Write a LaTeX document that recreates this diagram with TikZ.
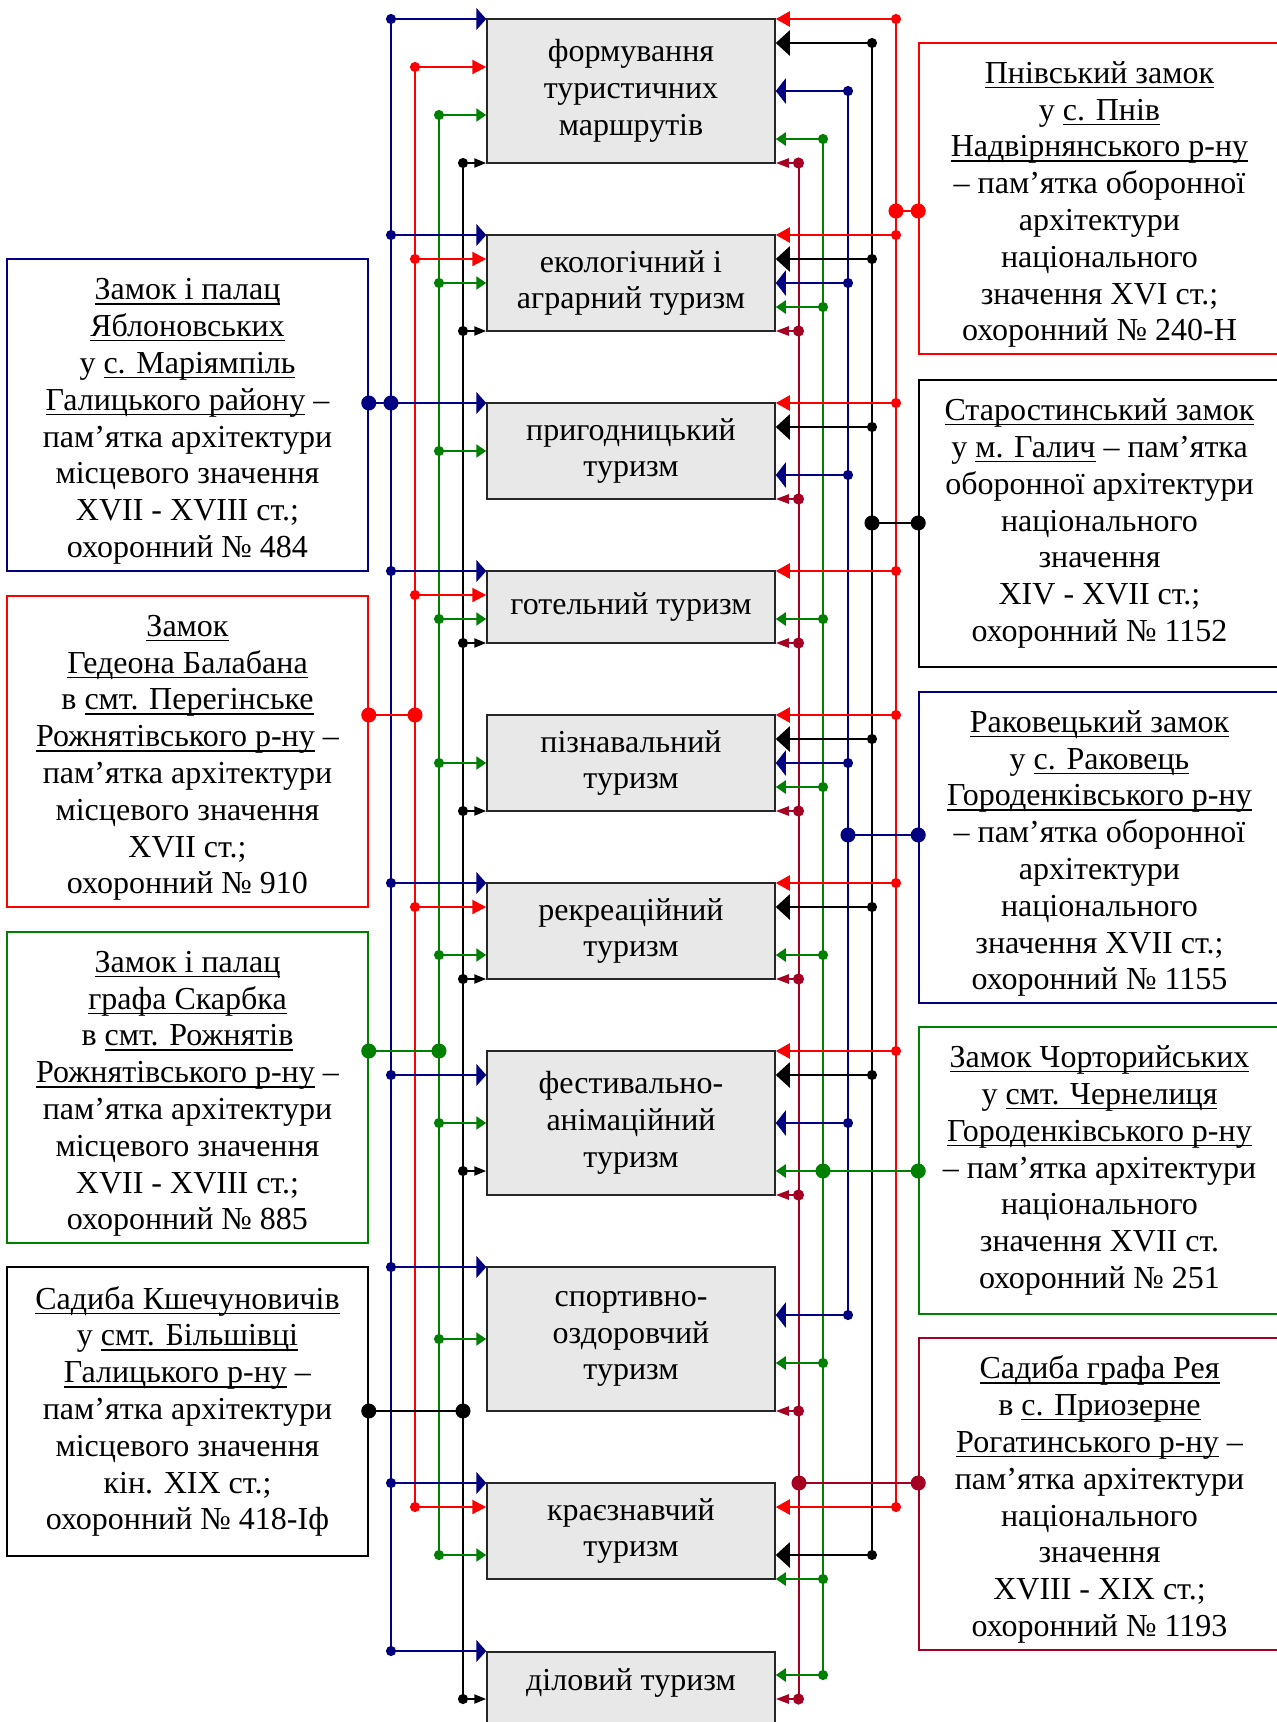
\documentclass[tikz,border=0pt]{standalone}
\usepackage{fontspec}
\setmainfont{Liberation Serif}
\usetikzlibrary{arrows.meta}
\newcommand{\ulc}[1]{\setbox0\hbox{#1}\rlap{\rule[-4.8pt]{\wd0}{1.3pt}}\box0\relax}
\newcommand{\lowr}{\rule{0pt}{34pt}}
\definecolor{navyc}{RGB}{0,0,128}
\definecolor{redc}{RGB}{255,0,0}
\definecolor{greenc}{RGB}{0,128,0}
\definecolor{winec}{RGB}{165,0,33}
\definecolor{boxgray}{RGB}{232,232,232}
\tikzstyle{tour} = [draw=black!85, fill=boxgray, line width=1.5pt, minimum width=288pt, inner sep=0pt, align=center, font=\fontsize{32}{36.8}\selectfont]
\tikzstyle{site} = [draw, fill=white, line width=1.5pt, minimum width=361pt, inner sep=0pt, align=center, font=\fontsize{32}{36.8}\selectfont]
\tikzstyle{bus} = [line width=1.4pt]
\tikzstyle{joint} = [line width=2pt, {Circle[length=15pt]}-{Circle[length=15pt]}, shorten <=-7.5pt, shorten >=-7.5pt]
\tikzstyle{feed} = [line width=2.2pt, shorten <=-5pt]
\tikzstyle{navyL} = [feed, navyc, {Circle[length=10pt]}-{Triangle[length=10pt,width=22pt]}]
\tikzstyle{redL} = [feed, redc, {Circle[length=10pt]}-{Triangle[length=14pt,width=14pt]}]
\tikzstyle{greenL} = [feed, greenc, {Circle[length=10pt]}-{Triangle[length=10pt,width=13pt]}]
\tikzstyle{blackL} = [feed, black, {Circle[length=10pt]}-{Triangle[length=12pt,width=9pt]}]
\tikzstyle{redR} = [feed, redc, {Circle[length=10pt]}-{Triangle[length=14pt,width=15pt]}]
\tikzstyle{blackR} = [feed, black, {Circle[length=10pt]}-{Triangle[length=14pt,width=25pt]}]
\tikzstyle{navyR} = [feed, navyc, {Circle[length=10pt]}-{Triangle[length=10pt,width=25pt]}]
\tikzstyle{greenR} = [feed, greenc, {Circle[length=10pt]}-{Triangle[length=10pt,width=13pt]}]
\tikzstyle{wineR} = [feed, winec, {Circle[length=11pt]}-{Triangle[length=13pt,width=9pt]}]
% row n sits at y = 19 + 24n
\newcommand{\feedL}[4]{\draw[#1] (#2 |- 0,{19+24*#4}) -- (#3.west |- 0,{19+24*#4});}
\newcommand{\feedR}[4]{\draw[#1] (#2 |- 0,{19+24*#4}) -- (#3.east |- 0,{19+24*#4});}
\newcommand{\busv}[4]{\draw[bus,#1] (#2 |- 0,{19+24*#3}) -- (#2 |- 0,{19+24*#4});}
\newcommand{\junc}[4]{\draw[joint,#1] (#2 |- 0,{19+24*#4}) -- (#3 |- 0,{19+24*#4});}

\begin{document}
\begin{tikzpicture}[x=1pt, y=-1pt]
    \useasboundingbox (0,0) rectangle (1277,1722);
    \clip (0,0) rectangle (1277,1722);
    % kinds of tourism
    \draw (631,91) node[tour, minimum height=144pt] (t1) {формування\\туристичних\\маршрутів};
    \draw (631,283) node[tour, minimum height=96pt] (t2) {екологічний і\\аграрний туризм};
    \draw (631,451) node[tour, minimum height=96pt] (t3) {пригодницький\\туризм};
    \draw (631,607) node[tour, minimum height=72pt] (t4) {готельний туризм};
    \draw (631,763) node[tour, minimum height=96pt] (t5) {пізнавальний\\туризм};
    \draw (631,931) node[tour, minimum height=96pt] (t6) {рекреаційний\\туризм};
    \draw (631,1123) node[tour, minimum height=144pt] (t7) {фестивально-\\анімаційний\\туризм};
    \draw (631,1339) node[tour, minimum height=144pt] (t8) {спортивно-\\оздоровчий\\туризм};
    \draw (631,1531) node[tour, minimum height=96pt] (t9) {краєзнавчий\\туризм};
    \draw (631,1651) node[tour, anchor=north, minimum height=80pt, text depth=25pt] (t10) {діловий туризм};
    % heritage sites, left
    \draw (187.5,415) node[site, draw=navyc, minimum height=312pt] (jab) {\lowr\ulc{Замок і палац}\\\ulc{Яблоновських}\\у \ulc{с. Маріямпіль}\\\ulc{Галицького району} –\\пам’ятка архітектури\\місцевого значення\\XVII - XVIII ст.;\\охоронний № 484};
    \draw (187.5,751.5) node[site, draw=redc, minimum height=311pt] (bal) {\lowr\ulc{Замок}\\\ulc{Гедеона Балабана}\\в \ulc{смт. Перегінське}\\\ulc{Рожнятівського р-ну} –\\пам’ятка архітектури\\місцевого значення\\XVII ст.;\\охоронний № 910};
    \draw (187.5,1087.5) node[site, draw=greenc, minimum height=311pt] (ska) {\lowr\ulc{Замок і палац}\\\ulc{графа Скарбка}\\в \ulc{смт. Рожнятів}\\\ulc{Рожнятівського р-ну} –\\пам’ятка архітектури\\місцевого значення\\XVII - XVIII ст.;\\охоронний № 885};
    \draw (187.5,1411.5) node[site, draw=black, minimum height=289pt] (ksh) {\ulc{Садиба Кшечуновичів}\\у \ulc{смт. Більшівці}\\\ulc{Галицького р-ну} –\\пам’ятка архітектури\\місцевого значення\\кін. XIX ст.;\\охоронний № 418-Іф};
    % heritage sites, right
    \draw (1099.5,198.5) node[site, draw=redc, minimum height=311pt] (pni) {\lowr\ulc{Пнівський замок}\\у \ulc{с. Пнів}\\\ulc{Надвірнянського р-ну}\\– пам’ятка оборонної\\архітектури\\національного\\значення XVI ст.;\\охоронний № 240-Н};
    \draw (1099.5,523.5) node[site, draw=black, minimum height=287pt] (sta) {\ulc{Старостинський замок}\\у \ulc{м. Галич} – пам’ятка\\оборонної архітектури\\національного\\значення\\XIV - XVII ст.;\\охоронний № 1152};
    \draw (1099.5,847.5) node[site, draw=navyc, minimum height=311pt] (rak) {\lowr\ulc{Раковецький замок}\\у \ulc{с. Раковець}\\\ulc{Городенківського р-ну}\\– пам’ятка оборонної\\архітектури\\національного\\значення XVII ст.;\\охоронний № 1155};
    \draw (1099.5,1170.5) node[site, draw=greenc, minimum height=287pt] (cho) {\ulc{Замок Чорторийських}\\у \ulc{смт. Чернелиця}\\\ulc{Городенківського р-ну}\\– пам’ятка архітектури\\національного\\значення XVII ст.\\охоронний № 251};
    \draw (1099.5,1494) node[site, draw=winec, minimum height=312pt] (rey) {\lowr\ulc{Садиба графа Рея}\\в \ulc{с. Приозерне}\\\ulc{Рогатинського р-ну} –\\пам’ятка архітектури\\національного\\значення\\XVIII - XIX ст.;\\охоронний № 1193};
    % buses
    \coordinate (jabx) at (391,0);
    \coordinate (balx) at (415,0);
    \coordinate (skax) at (439,0);
    \coordinate (kshx) at (463,0);
    \coordinate (reyx) at (799,0);
    \coordinate (chox) at (823,0);
    \coordinate (rakx) at (848,0);
    \coordinate (stax) at (872,0);
    \coordinate (pnix) at (896,0);
    \busv{navyc}{jabx}{0}{68}
    \busv{redc}{balx}{2}{62}
    \busv{greenc}{skax}{4}{64}
    \busv{black}{kshx}{6}{70}
    \busv{winec}{reyx}{6}{70}
    \busv{greenc}{chox}{5}{69}
    \busv{navyc}{rakx}{3}{54}
    \busv{black}{stax}{1}{64}
    \busv{redc}{pnix}{0}{62}
    % left feeds
    \feedL{navyL}{jabx}{t1}{0}
    \feedL{redL}{balx}{t1}{2}
    \feedL{greenL}{skax}{t1}{4}
    \feedL{blackL}{kshx}{t1}{6}
    \feedL{navyL}{jabx}{t2}{9}
    \feedL{redL}{balx}{t2}{10}
    \feedL{greenL}{skax}{t2}{11}
    \feedL{blackL}{kshx}{t2}{13}
    \feedL{navyL}{jabx}{t3}{16}
    \feedL{greenL}{skax}{t3}{18}
    \feedL{navyL}{jabx}{t4}{23}
    \feedL{redL}{balx}{t4}{24}
    \feedL{greenL}{skax}{t4}{25}
    \feedL{blackL}{kshx}{t4}{26}
    \feedL{greenL}{skax}{t5}{31}
    \feedL{blackL}{kshx}{t5}{33}
    \feedL{navyL}{jabx}{t6}{36}
    \feedL{redL}{balx}{t6}{37}
    \feedL{greenL}{skax}{t6}{39}
    \feedL{blackL}{kshx}{t6}{40}
    \feedL{navyL}{jabx}{t7}{44}
    \feedL{greenL}{skax}{t7}{46}
    \feedL{blackL}{kshx}{t7}{48}
    \feedL{navyL}{jabx}{t8}{52}
    \feedL{greenL}{skax}{t8}{55}
    \feedL{navyL}{jabx}{t9}{61}
    \feedL{redL}{balx}{t9}{62}
    \feedL{greenL}{skax}{t9}{64}
    \feedL{navyL}{jabx}{t10}{68}
    \feedL{blackL}{kshx}{t10}{70}
    % right feeds
    \feedR{redR}{pnix}{t1}{0}
    \feedR{blackR}{stax}{t1}{1}
    \feedR{navyR}{rakx}{t1}{3}
    \feedR{greenR}{chox}{t1}{5}
    \feedR{wineR}{reyx}{t1}{6}
    \feedR{redR}{pnix}{t2}{9}
    \feedR{blackR}{stax}{t2}{10}
    \feedR{navyR}{rakx}{t2}{11}
    \feedR{greenR}{chox}{t2}{12}
    \feedR{wineR}{reyx}{t2}{13}
    \feedR{redR}{pnix}{t3}{16}
    \feedR{blackR}{stax}{t3}{17}
    \feedR{navyR}{rakx}{t3}{19}
    \feedR{wineR}{reyx}{t3}{20}
    \feedR{redR}{pnix}{t4}{23}
    \feedR{greenR}{chox}{t4}{25}
    \feedR{wineR}{reyx}{t4}{26}
    \feedR{redR}{pnix}{t5}{29}
    \feedR{blackR}{stax}{t5}{30}
    \feedR{navyR}{rakx}{t5}{31}
    \feedR{greenR}{chox}{t5}{32}
    \feedR{wineR}{reyx}{t5}{33}
    \feedR{redR}{pnix}{t6}{36}
    \feedR{blackR}{stax}{t6}{37}
    \feedR{greenR}{chox}{t6}{39}
    \feedR{wineR}{reyx}{t6}{40}
    \feedR{redR}{pnix}{t7}{43}
    \feedR{blackR}{stax}{t7}{44}
    \feedR{navyR}{rakx}{t7}{46}
    \feedR{greenR}{chox}{t7}{48}
    \feedR{wineR}{reyx}{t7}{49}
    \feedR{navyR}{rakx}{t8}{54}
    \feedR{greenR}{chox}{t8}{56}
    \feedR{wineR}{reyx}{t8}{58}
    \feedR{redR}{pnix}{t9}{62}
    \feedR{blackR}{stax}{t9}{64}
    \feedR{greenR}{chox}{t9}{65}
    \feedR{greenR}{chox}{t10}{69}
    \feedR{wineR}{reyx}{t10}{70}
    % sites to buses
    \junc{navyc}{jab.east}{jabx}{16}
    \junc{redc}{bal.east}{balx}{29}
    \junc{greenc}{ska.east}{skax}{43}
    \junc{black}{ksh.east}{kshx}{58}
    \junc{redc}{pnix}{pni.west}{8}
    \junc{black}{stax}{sta.west}{21}
    \junc{navyc}{rakx}{rak.west}{34}
    \junc{greenc}{chox}{cho.west}{48}
    \junc{winec}{reyx}{rey.west}{61}
\end{tikzpicture}
\end{document}
